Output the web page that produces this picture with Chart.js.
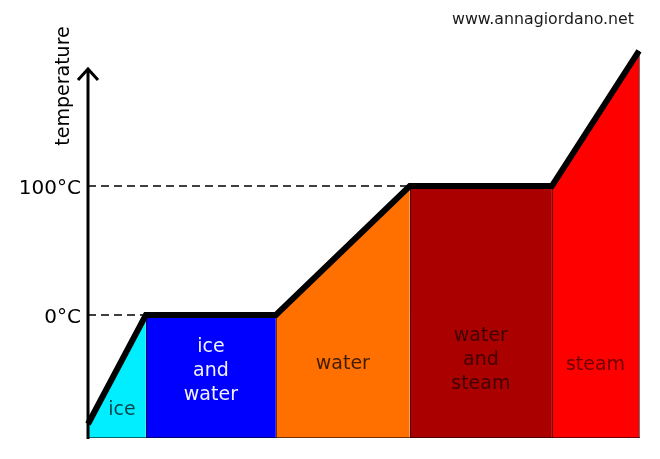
<!DOCTYPE html>
<html>
<head>
<meta charset="utf-8">
<script src="https://cdn.jsdelivr.net/npm/chart.js@4.4.1/dist/chart.umd.min.js"></script>
<style>
  html, body { margin:0; padding:0; background:#fff; }
  #wrap { width:660px; height:459px; }
</style>
</head>
<body>
<div id="wrap"><canvas id="c" width="660" height="459"></canvas></div>
<script>
// ── Heating curve data: heat added (arbitrary units) vs temperature (°C) ──────
const curveHeat   = [0, 10.5, 34.1, 58.4, 84.2, 100];
const curveTemp   = [-84.5, 0, 0, 100, 100, 204.7];
const phaseNames  = [['ice'], ['ice', 'and', 'water'], ['water'], ['water', 'and', 'steam'], ['steam']];
const phaseColors = ['#00eeff', '#0000ff', '#ff7000', '#aa0000', '#ff0000'];
const tickValues  = [0, 100];
const tickLabels  = ['0°C', '100°C'];
const axisTitle   = 'temperature';
const creditText  = 'www.annagiordano.net';

const FONT = '"DejaVu Sans", Verdana, sans-serif';

const pts = curveHeat.map((x, i) => ({ x, y: curveTemp[i] }));

const datasets = [{
  // the curve itself, on top of everything
  data: pts, borderColor: '#000', borderWidth: 6, borderJoinStyle: 'miter',
  pointRadius: 0, fill: false, order: 0, clip: false,
}];
phaseNames.forEach((n, i) => datasets.push({
  data: [pts[i], pts[i + 1]], backgroundColor: phaseColors[i],
  borderColor: 'transparent', borderWidth: 0, pointRadius: 0, fill: 'start', order: 1,
}));
tickValues.forEach(v => datasets.push({
  // dashed guide from the axis to where the curve reaches v
  data: [{ x: curveHeat[0], y: v }, { x: curveHeat[curveTemp.indexOf(v)], y: v }],
  borderColor: '#000', borderWidth: 1.6, borderDash: [8, 5],
  pointRadius: 0, fill: false, order: 2,
}));

// per-phase label baselines (px) and white text for the blue band
const labelBase  = [415, 352, 369, 341, 370];
const labelColor = ['rgba(0,0,0,0.72)', '#f2f2ff', 'rgba(0,0,0,0.75)', 'rgba(0,0,0,0.62)', 'rgba(0,0,0,0.58)'];

const decor = {
  id: 'decor',
  afterDatasetsDraw(chart) {
    const { ctx, chartArea: a, scales: { x, y } } = chart;
    ctx.save();

    // thin edges between the phase bands
    ctx.strokeStyle = 'rgba(0,0,0,0.55)';
    ctx.lineWidth = 1;
    for (let i = 1; i < curveHeat.length; i++) {
      const px = Math.round(x.getPixelForValue(curveHeat[i])) + 0.5;
      ctx.beginPath();
      ctx.moveTo(px, y.getPixelForValue(curveTemp[i]));
      ctx.lineTo(px, a.bottom);
      ctx.stroke();
    }
    ctx.beginPath();
    ctx.moveTo(a.left, a.bottom - 0.5);
    ctx.lineTo(x.getPixelForValue(curveHeat[curveHeat.length - 1]) + 1, a.bottom - 0.5);
    ctx.stroke();

    // y axis with arrow head
    const ax = a.left;
    ctx.strokeStyle = '#000';
    ctx.lineWidth = 3;
    ctx.beginPath();
    ctx.moveTo(ax, a.bottom + 1);
    ctx.lineTo(ax, 69);
    ctx.stroke();
    ctx.lineJoin = 'miter';
    ctx.beginPath();
    ctx.moveTo(ax - 10, 80);
    ctx.lineTo(ax, 69);
    ctx.lineTo(ax + 10, 80);
    ctx.stroke();

    // tick labels
    ctx.fillStyle = '#000';
    ctx.font = '20px ' + FONT;
    ctx.textAlign = 'right';
    ctx.textBaseline = 'alphabetic';
    tickValues.forEach((v, i) => {
      ctx.fillText(tickLabels[i], ax - 7, y.getPixelForValue(v) + 8);
    });

    // phase labels
    ctx.font = '19px ' + FONT;
    ctx.textAlign = 'center';
    phaseNames.forEach((lines, i) => {
      const cx = (x.getPixelForValue(curveHeat[i]) + x.getPixelForValue(curveHeat[i + 1])) / 2 + (i === 0 ? 5 : 0);
      ctx.fillStyle = labelColor[i];
      lines.forEach((t, k) => ctx.fillText(t, cx, labelBase[i] + k * 24));
    });

    // axis title, rotated
    ctx.save();
    ctx.translate(69, 86);
    ctx.rotate(-Math.PI / 2);
    ctx.fillStyle = '#000';
    ctx.font = '19px ' + FONT;
    ctx.textAlign = 'center';
    ctx.fillText(axisTitle, 0, 0);
    ctx.restore();

    // credit
    ctx.fillStyle = '#1a1a1a';
    ctx.font = '15.8px ' + FONT;
    ctx.textAlign = 'center';
    ctx.fillText(creditText, 543, 24);

    ctx.restore();
  }
};

new Chart(document.getElementById('c').getContext('2d'), {
  type: 'line',
  data: { datasets },
  options: {
    responsive: false,
    animation: false,
    events: [],
    layout: { padding: { left: 88, right: 21, top: 38, bottom: 21 } },
    plugins: { legend: { display: false }, tooltip: { enabled: false } },
    scales: {
      x: { type: 'linear', min: 0, max: 100, display: false },
      y: { type: 'linear', min: -95.35, max: 214.7, display: false }
    }
  },
  plugins: [decor]
});
</script>
</body>
</html>
